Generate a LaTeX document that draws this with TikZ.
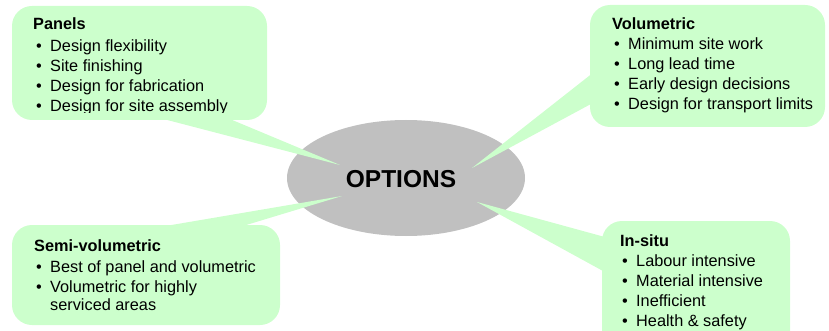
\documentclass[tikz,border=0pt]{standalone}
\usepackage{fontspec}
\setmainfont{Liberation Sans}
\usetikzlibrary{shapes.geometric}
\begin{document}
\begin{tikzpicture}[x=1pt,y=-1pt,
  bubble/.style={fill=bubblegreen,draw=none,rounded corners=20pt,inner sep=0pt},
  pointer/.style={fill=bubblegreen,draw=none},
  hub/.style={ellipse,fill=hubgray,draw=none,minimum width=238pt,minimum height=116pt,inner sep=0pt},
  ttl/.style={anchor=base west,inner sep=0pt,font=\fontsize{16.3}{20}\selectfont\bfseries},
  itm/.style={anchor=base west,inner sep=0pt,font=\fontsize{16.3}{20}\selectfont},
  blt/.style={anchor=base west,inner sep=0pt,font=\fontsize{16.3}{20}\selectfont}
]
\definecolor{bubblegreen}{HTML}{CCFFCC}
\definecolor{hubgray}{HTML}{C0C0C0}
\useasboundingbox (0,0) rectangle (829,331);
% hub
\node[hub] (hub) at (406,178) {};
% tips
\coordinate (tipP) at (340,165);
\coordinate (tipV) at (472,168);
\coordinate (tipS) at (342,196);
\coordinate (tipI) at (477,202);
% boxes
\node[bubble,minimum width=255pt,minimum height=114pt] (panels) at (139.5,63) {};
\node[bubble,minimum width=235pt,minimum height=122pt] (volu) at (707.5,66) {};
\node[bubble,minimum width=268pt,minimum height=100pt] (semi) at (146,275) {};
\node[bubble,minimum width=188pt,minimum height=130pt] (insitu) at (696,286) {};
% pointers (xshift/yshift are canvas shifts: positive yshift goes up)
\fill[pointer] ([xshift=17pt,yshift=3pt]panels.south) -- (tipP) -- ([xshift=86pt,yshift=3pt]panels.south) -- cycle;
\fill[pointer] ([xshift=3pt,yshift=-7pt]volu.west) -- (tipV) -- ([xshift=3pt,yshift=-37pt]volu.west) -- cycle;
\fill[pointer] ([xshift=9pt,yshift=-3pt]semi.north) -- (tipS) -- ([xshift=91pt,yshift=-3pt]semi.north) -- cycle;
\fill[pointer] ([xshift=3pt,yshift=49pt]insitu.west) -- (tipI) -- ([xshift=3pt,yshift=14pt]insitu.west) -- cycle;
% hub label
\node[inner sep=0pt,font=\fontsize{24.5}{28}\selectfont\bfseries] (opt) at (401,179) {OPTIONS};
% Panels text
\begin{scope}
\clip (0,0) rectangle (829,112.5);
\node[ttl] (p0) at (33,30) {Panels};
\node[blt] (pb1) at (36,52) {•}; \node[itm] (p1) at (50,52) {Design flexibility};
\node[blt] (pb2) at (36,72) {•}; \node[itm] (p2) at (50,72) {Site finishing};
\node[blt] (pb3) at (36,92) {•}; \node[itm] (p3) at (50,92) {Design for fabrication};
\node[blt] (pb4) at (36,112) {•}; \node[itm] (p4) at (50,112) {Design for site assembly};
\end{scope}
% Volumetric text
\node[ttl] (v0) at (612,30) {Volumetric};
\node[blt] (vb1) at (614,50) {•}; \node[itm] (v1) at (628,50) {Minimum site work};
\node[blt] (vb2) at (614,70) {•}; \node[itm] (v2) at (628,70) {Long lead time};
\node[blt] (vb3) at (614,90) {•}; \node[itm] (v3) at (628,90) {Early design decisions};
\node[blt] (vb4) at (614,110) {•}; \node[itm] (v4) at (628,110) {Design for transport limits};
% Semi-volumetric text
\node[ttl] (s0) at (34,251) {Semi-volumetric};
\node[blt] (sb1) at (36,272) {•}; \node[itm] (s1) at (50,272) {Best of panel and volumetric};
\node[blt] (sb2) at (36,292) {•}; \node[itm] (s2) at (50,292) {Volumetric for highly};
\node[itm] (s3) at (50,310) {serviced areas};
% In-situ text
\node[ttl] (i0) at (620,246) {In-situ};
\node[blt] (ib1) at (622,266) {•}; \node[itm] (i1) at (636,266) {Labour intensive};
\node[blt] (ib2) at (622,286) {•}; \node[itm] (i2) at (636,286) {Material intensive};
\node[blt] (ib3) at (622,306) {•}; \node[itm] (i3) at (636,306) {Inefficient};
\node[blt] (ib4) at (622,326) {•}; \node[itm] (i4) at (636,326) {Health \& safety};
\end{tikzpicture}
\end{document}
